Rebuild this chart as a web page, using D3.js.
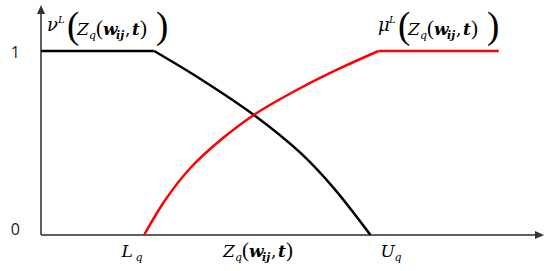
<!DOCTYPE html>
<html>
<head>
<meta charset="utf-8">
<script src="https://cdn.jsdelivr.net/npm/d3@7"></script>
<style>
  body { margin: 0; background: #fff; }
</style>
</head>
<body>
<div id="chart"></div>
<script>
// membership curves (x in arbitrary units, y in [0,1])
var nuFlat  = [[0, 1], [2.25, 1]];
var nuCurve = [[2.25, 1], [3.17, 0.848], [4.26, 0.647], [5.16, 0.446], [5.82, 0.255], [6.55, 0]];
var muCurve = [[2.05, 0], [2.47, 0.19], [2.97, 0.364], [3.57, 0.516], [4.26, 0.658], [5.16, 0.799], [5.96, 0.908], [6.71, 1]];
var muFlat  = [[6.71, 1], [9.10, 1]];

var yTicks = [0, 1];
var xLabels = [
  {pos: 1.8, name: "L", sub: "q"},
  {pos: 6.95, name: "U", sub: "q"}
];

var margin = {top: 5, right: 6, bottom: 36, left: 41},
    width = 550 - margin.left - margin.right,
    height = 271 - margin.top - margin.bottom;

var svg = d3.select("#chart")
  .append("svg")
    .attr("width", 550)
    .attr("height", 271)
  .append("g")
    .attr("transform", "translate(" + margin.left + "," + margin.top + ")");

var x = d3.scaleLinear().domain([0, 10]).range([0, 503]);
var y = d3.scaleLinear().domain([0, 1.25]).range([230, 0]);

// y labels (no ticks, no domain)
var yAxis = svg.append("g")
  .call(d3.axisLeft(y).tickValues(yTicks).tickSize(0).tickPadding(21).tickFormat(d3.format("d")));
yAxis.select(".domain").remove();
yAxis.selectAll("text")
  .style("font-family", "Open Sans")
  .style("font-size", "16px")
  .style("fill", "#222")
  .attr("dy", function(d) { return d === 0 ? "-0.05em" : "0.4em"; });

// axes with arrows
var axisColor = "#5f5f5f";
svg.append("line")
  .attr("x1", x(0)).attr("y1", y(0)).attr("x2", x(0)).attr("y2", 8)
  .attr("stroke", axisColor).attr("stroke-width", 2);
svg.append("path")
  .attr("d", "M" + x(0) + ",0 L" + (x(0) - 4) + ",9 L" + (x(0) + 4) + ",9 Z")
  .attr("fill", "#333");
svg.append("line")
  .attr("x1", x(0)).attr("y1", y(0)).attr("x2", x(10) - 8).attr("y2", y(0))
  .attr("stroke", axisColor).attr("stroke-width", 2);
svg.append("path")
  .attr("d", "M" + x(10) + "," + y(0) + " L" + (x(10) - 9) + "," + (y(0) - 4) + " L" + (x(10) - 9) + "," + (y(0) + 4) + " Z")
  .attr("fill", "#333");

var straight = d3.line().x(function(d) { return x(d[0]); }).y(function(d) { return y(d[1]); });
var smooth = d3.line().curve(d3.curveCatmullRom.alpha(0.5)).x(function(d) { return x(d[0]); }).y(function(d) { return y(d[1]); });

svg.append("path").datum(nuFlat).attr("d", straight)
  .attr("fill", "none").attr("stroke", "#000").attr("stroke-width", 2.5);
svg.append("path").datum(nuCurve).attr("d", smooth)
  .attr("fill", "none").attr("stroke", "#000").attr("stroke-width", 2.5);
svg.append("path").datum(muCurve).attr("d", smooth)
  .attr("fill", "none").attr("stroke", "#ff0000").attr("stroke-width", 2.5);
svg.append("path").datum(muFlat).attr("d", straight)
  .attr("fill", "none").attr("stroke", "#ff0000").attr("stroke-width", 2.5);

// math-ish labels built from pieces
var serif = "DejaVu Serif";
function piece(g, px, py, txt, opts) {
  opts = opts || {};
  g.append("text")
    .attr("x", px).attr("y", py)
    .style("font-family", opts.family || serif)
    .style("font-size", (opts.size || 17) + "px")
    .style("font-style", opts.italic === false ? "normal" : "italic")
    .style("font-weight", opts.bold ? "bold" : "normal")
    .style("fill", "#000")
    .text(txt);
}

// Z_q(w_ij, t) starting at left edge px, baseline py
function zq(g, px, py) {
  piece(g, px, py, "Z");
  piece(g, px + 12, py + 4, "q", {size: 11});
  piece(g, px + 19, py, "(", {italic: false, size: 21, family: "Liberation Serif"});
  piece(g, px + 26, py, "w", {bold: true});
  piece(g, px + 39, py + 4, "ij", {bold: true, size: 11});
  piece(g, px + 48, py, ",", {italic: false});
  piece(g, px + 55, py, "t", {bold: true});
  piece(g, px + 63, py, ")", {italic: false, size: 21, family: "Liberation Serif"});
}

function topLabel(px, greek) {
  var g = svg.append("g").attr("transform", "translate(" + (px - margin.left) + "," + (-margin.top) + ")");
  piece(g, 0, 31, greek, {size: 18});
  piece(g, 11, 23, "L", {size: 10});
  piece(g, 20, 38, "(", {italic: false, size: 37, family: "Liberation Serif"});
  zq(g, 30, 35);
  piece(g, 109, 38, ")", {italic: false, size: 37, family: "Liberation Serif"});
}
topLabel(47, "\u03bd");
topLabel(378, "\u03bc");

// bottom labels
var bottom = svg.append("g").attr("transform", "translate(0," + (y(0) + 22) + ")");
xLabels.forEach(function(d) {
  piece(bottom, x(d.pos) - 10, 0, d.name);
  piece(bottom, x(d.pos) + 4, 4, d.sub, {size: 11});
});
zq(bottom, x(3.62), 0);
</script>
</body>
</html>
